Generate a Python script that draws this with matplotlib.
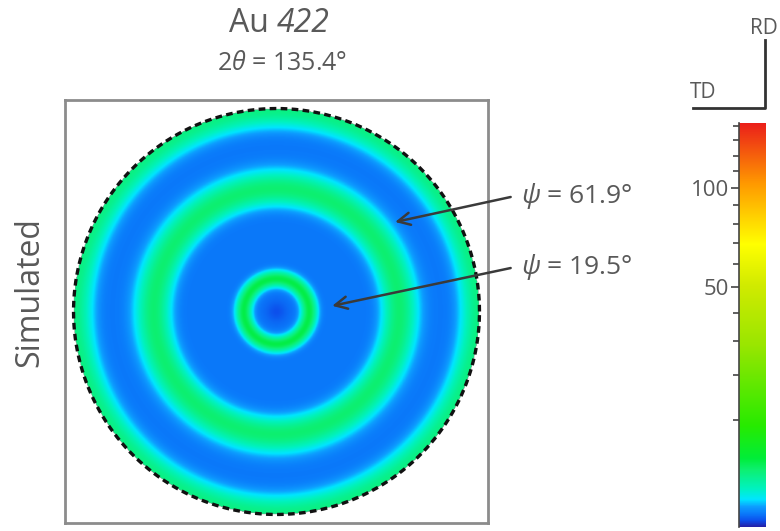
import numpy as np
import matplotlib
matplotlib.use("Agg")
import matplotlib.pyplot as plt
from matplotlib.colors import LinearSegmentedColormap, PowerNorm
from matplotlib.lines import Line2D
from matplotlib.ticker import FixedLocator, NullFormatter

plt.rcParams['font.family'] = ['Open Sans', 'DejaVu Sans']
plt.rcParams['mathtext.fontset'] = 'custom'
plt.rcParams['mathtext.rm'] = 'Open Sans'
plt.rcParams['mathtext.it'] = 'Open Sans:italic'

W, H = 780, 531
grey = '#595959'

# ring positions (tilt angle psi, deg), peak intensities and widths
ring_psi = [18.3, 62.4, 90.0]
ring_peak = [3.6, 2.7, 2.3]
ring_sigma = [2.6, 4.2, 3.2]
background = 0.15
center_dip = 0.11
center_sigma = 5.0
vmax = 142
cbar_major = [50, 100]
cbar_minor = [10, 20, 30, 40, 60, 70, 80, 90, 110, 120, 130, 140]
labels = ['\u03c8 = 61.9\u00b0', '\u03c8 = 19.5\u00b0']

# colour stops along the (sqrt-scaled) bar
stops = [(0.000, (0.15, 0.12, 0.65)),
         (0.015, (0.05, 0.30, 0.92)),
         (0.032, (0.04, 0.47, 0.98)),
         (0.050, (0.05, 0.62, 1.00)),
         (0.068, (0.00, 0.90, 1.00)),
         (0.095, (0.00, 0.95, 0.75)),
         (0.140, (0.05, 0.94, 0.45)),
         (0.170, (0.00, 0.93, 0.22)),
         (0.250, (0.15, 0.92, 0.00)),
         (0.450, (0.60, 0.90, 0.00)),
         (0.600, (0.82, 0.92, 0.00)),
         (0.700, (1.00, 1.00, 0.00)),
         (0.850, (1.00, 0.60, 0.00)),
         (1.000, (0.92, 0.12, 0.10))]
cmap = LinearSegmentedColormap.from_list('pf', stops, N=1024)
norm = PowerNorm(gamma=0.5, vmin=0, vmax=vmax)


def fx(px):
    return px / W


def fy(py):
    return 1 - py / H


fig = plt.figure(figsize=(7.8, 5.31), dpi=100)

# pole figure (stereographic projection)
ax = fig.add_axes([fx(65), fy(523), 423 / W, 423 / H])
n = 700
g = np.linspace(-1.042, 1.042, n)
X, Y = np.meshgrid(g, g)
r = np.hypot(X, Y)
psi = np.degrees(2 * np.arctan(r))
I = np.full_like(r, background)
for p, a, s in zip(ring_psi, ring_peak, ring_sigma):
    I += a * np.exp(-(psi - p) ** 2 / (2 * s ** 2))
I -= center_dip * np.exp(-psi ** 2 / (2 * center_sigma ** 2))
I = np.ma.masked_where(r > 1.0, I)
ax.imshow(I, cmap=cmap, norm=norm, extent=[-1.042, 1.042, -1.042, 1.042],
          origin='lower', interpolation='bilinear')
t = np.linspace(0, 2 * np.pi, 400)
ax.plot(np.cos(t), np.sin(t), color='#111111', lw=2.4, ls=(0, (2.0, 1.3)))
ax.set_xlim(-1.042, 1.042)
ax.set_ylim(-1.042, 1.042)
ax.set_xticks([])
ax.set_yticks([])
for sp in ax.spines.values():
    sp.set_color('#8c8c8c')
    sp.set_linewidth(2)

# arrows to the rings
tips = [(0.571, 0.438), (0.261, 0.025)]
text_pos = [(1.207, 0.567), (1.207, 0.217)]
for lab, tip, tp in zip(labels, tips, text_pos):
    ax.annotate('', xy=tip, xytext=(tp[0] - 0.04, tp[1]),
                arrowprops=dict(arrowstyle='->', color='#3a3a3a', lw=1.8,
                                mutation_scale=22),
                annotation_clip=False)
    ax.text(tp[0], tp[1], lab.replace('\u03c8', r'$\psi$'), fontsize=19,
            color=grey, ha='left', va='center', clip_on=False)

# titles
fig.text(fx(277), fy(23), 'Au ', fontsize=23, color=grey, ha='right', va='center')
fig.text(fx(277), fy(23), '422', fontsize=23, color=grey, style='italic',
         ha='left', va='center')
fig.text(fx(282), fy(63), r'2$\theta$ = 135.4°', fontsize=18, color=grey,
         ha='center', va='center')
fig.text(fx(30), fy(292), 'Simulated', fontsize=23, color=grey, rotation=90,
         ha='center', va='center')

# sample axes
fig.add_artist(Line2D([fx(693), fx(765), fx(765)], [fy(108), fy(108), fy(40)],
                      transform=fig.transFigure, color='#333333', lw=2))
fig.text(fx(703), fy(93), 'TD', fontsize=15, color=grey, ha='center', va='center')
fig.text(fx(764), fy(28), 'RD', fontsize=15, color=grey, ha='center', va='center')

# colour bar
cax = fig.add_axes([fx(739), fy(527), 27 / W, 404 / H])
sm = plt.cm.ScalarMappable(norm=norm, cmap=cmap)
cb = fig.colorbar(sm, cax=cax)
cb.outline.set_visible(False)
cax.yaxis.set_ticks_position('left')
cax.yaxis.set_major_locator(FixedLocator(cbar_major))
cax.yaxis.set_minor_locator(FixedLocator(cbar_minor))
cax.yaxis.set_minor_formatter(NullFormatter())
cax.tick_params(which='major', length=6, width=1.2, color='#444444',
                labelsize=16, labelcolor=grey, pad=1)
cax.tick_params(which='minor', length=4, width=1.2, color='#444444')
cax.plot([0, 0], [0, 1], transform=cax.transAxes, color='#444444', lw=1.2,
         clip_on=False)

fig.savefig('out.png', dpi=100)
